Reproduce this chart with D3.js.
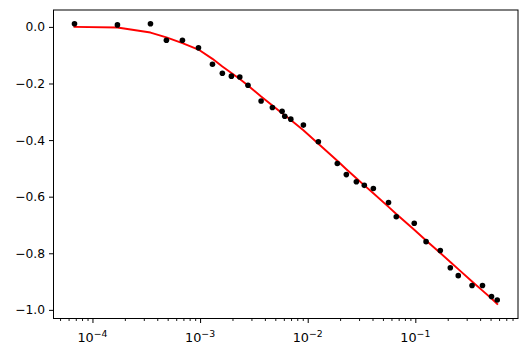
<!DOCTYPE html>
<html>
<head>
<meta charset="utf-8">
<script src="https://cdn.jsdelivr.net/npm/d3@7"></script>
<style>
  html, body { margin: 0; padding: 0; background: #fff; }
  svg { display: block; font-family: "DejaVu Sans", sans-serif; }
</style>
</head>
<body>
<svg id="chart" width="528" height="356"></svg>
<script>
// ---- data ----
const xLog = [-4.167, -3.768, -3.461, -3.313, -3.164, -3.015, -2.885, -2.793, -2.709, -2.631,
              -2.555, -2.433, -2.328, -2.238, -2.213, -2.157, -2.040, -1.901, -1.725, -1.641,
              -1.548, -1.474, -1.390, -1.249, -1.177, -1.010, -0.900, -0.768, -0.675, -0.601,
              -0.473, -0.376, -0.292, -0.239];
const yData = [0.011, 0.007, 0.011, -0.047, -0.047, -0.074, -0.132, -0.164, -0.174, -0.177,
               -0.206, -0.262, -0.285, -0.298, -0.316, -0.326, -0.347, -0.406, -0.483, -0.522,
               -0.547, -0.560, -0.571, -0.621, -0.671, -0.694, -0.759, -0.790, -0.851, -0.879,
               -0.914, -0.914, -0.953, -0.965];
const yFit = [0.000, -0.002, -0.020, -0.037, -0.057, -0.080, -0.113, -0.140, -0.163, -0.184,
              -0.207, -0.246, -0.278, -0.305, -0.312, -0.329, -0.365, -0.413, -0.473, -0.503,
              -0.535, -0.560, -0.588, -0.636, -0.661, -0.717, -0.755, -0.799, -0.831, -0.856,
              -0.900, -0.932, -0.960, -0.979];
const yTicks = [0.0, -0.2, -0.4, -0.6, -0.8, -1.0];
const xTickExps = [-4, -3, -2, -1];

const xs = xLog.map(v => Math.pow(10, v));

// ---- layout ----
const L = 53.5, R = 518, T = 10, B = 318.5;
const svg = d3.select("#chart");

const x = d3.scaleLog().domain([Math.pow(10, -4.362), Math.pow(10, -0.046)]).range([L, R]);
const y = d3.scaleLinear().domain([-1.0305, 0.0597]).range([B, T]);

const minus = s => s.replace("-", "\u2212");

// y axis
const yAxis = d3.axisLeft(y).tickValues(yTicks).tickSize(4.5).tickPadding(4)
  .tickFormat(d => minus(d3.format(".1f")(d)));
const gy = svg.append("g").attr("transform", `translate(${L},0)`).call(yAxis);
gy.select(".domain").remove();
gy.selectAll("text").attr("font-size", 12.3).attr("fill", "#000").attr("font-family", "DejaVu Sans");
gy.selectAll("line").attr("stroke", "#000").attr("stroke-width", 1);

// x axis major
const majors = xTickExps.map(e => Math.pow(10, e));
const gx = svg.append("g").attr("transform", `translate(0,${B})`)
  .call(d3.axisBottom(x).tickValues(majors).tickSize(4.5).tickFormat(""));
gx.select(".domain").remove();
gx.selectAll("line").attr("stroke", "#000").attr("stroke-width", 1);

// x axis minor
const minors = [];
for (let e = -5; e <= 0; e++) for (let m = 2; m <= 9; m++) {
  const v = m * Math.pow(10, e);
  if (v >= x.domain()[0] && v <= x.domain()[1]) minors.push(v);
}
const gxm = svg.append("g").attr("transform", `translate(0,${B})`)
  .call(d3.axisBottom(x).tickValues(minors).tickSize(2.5).tickFormat(""));
gxm.select(".domain").remove();
gxm.selectAll("line").attr("stroke", "#000").attr("stroke-width", 0.9);

// x tick labels with superscripts
const lab = svg.append("g");
majors.forEach((v, i) => {
  const t = lab.append("text")
    .attr("x", x(v)).attr("y", 342.3)
    .attr("text-anchor", "middle")
    .attr("font-size", 12.8).attr("fill", "#000");
  t.append("tspan").text("10");
  t.append("tspan").attr("font-size", 9.3).attr("dy", -5.8).text("\u2212" + Math.abs(xTickExps[i]));
});

// fitted line
const line = d3.line().x((d, i) => x(xs[i])).y(d => y(d));
svg.append("path").datum(yFit)
  .attr("d", line).attr("fill", "none")
  .attr("stroke", "#ff0000").attr("stroke-width", 1.9)
  .attr("stroke-linejoin", "round").attr("stroke-linecap", "square");

// data points
svg.append("g").selectAll("circle").data(yData).join("circle")
  .attr("cx", (d, i) => x(xs[i])).attr("cy", d => y(d))
  .attr("r", 2.8).attr("fill", "#000");

// frame
svg.append("rect").attr("x", L).attr("y", T).attr("width", R - L).attr("height", B - T)
  .attr("fill", "none").attr("stroke", "#000").attr("stroke-width", 1);
</script>
</body>
</html>
